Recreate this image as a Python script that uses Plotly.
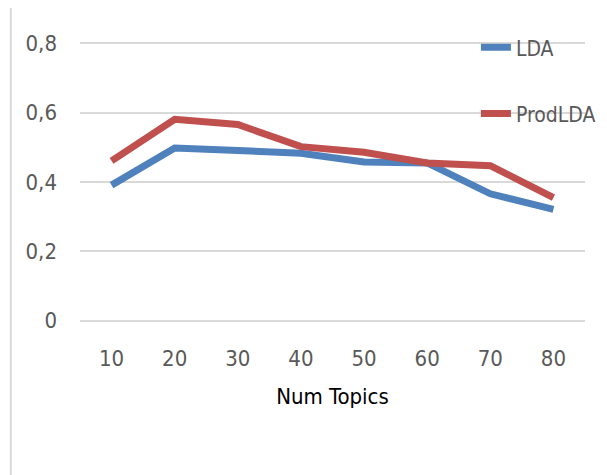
import plotly.graph_objects as go

topics = ["10", "20", "30", "40", "50", "60", "70", "80"]
lda = [0.391, 0.498, 0.491, 0.483, 0.458, 0.455, 0.366, 0.321]
prodlda = [0.461, 0.581, 0.566, 0.502, 0.486, 0.455, 0.447, 0.355]
y_ticks = [0, 0.2, 0.4, 0.6, 0.8]
y_ticktext = ["0", "0,2", "0,4", "0,6", "0,8"]

FONT = "DejaVu Sans Condensed, Liberation Sans Narrow, sans-serif"
GREY = "#595959"


def f(size, color=GREY):
    return dict(family=FONT, size=size, color=color)


fig = go.Figure()
fig.add_trace(go.Scatter(x=topics, y=lda, name="LDA", mode="lines",
                         line=dict(color="#4F81BD", width=7), legendgroup="a"))
fig.add_trace(go.Scatter(x=topics, y=prodlda, name="ProdLDA", mode="lines",
                         line=dict(color="#C0504D", width=7), legendgroup="b"))

fig.update_layout(
    width=607, height=475,
    margin=dict(l=72, r=30, t=34, b=161, autoexpand=False),
    paper_bgcolor="white", plot_bgcolor="white",
    font=f(22),
    showlegend=True,
    legend=dict(x=0.784, y=1.053, xanchor="left", yanchor="top",
                bgcolor="rgba(0,0,0,0)", tracegroupgap=36,
                font=f(21)),
    xaxis=dict(type="category", range=[-0.5, 7.5], showgrid=False,
               zeroline=False, showline=False, ticks="",
               ticklabelstandoff=21, automargin=False,
               tickfont=f(22),
               title=dict(text="Num Topics", standoff=18,
                          font=f(22, "#000000"))),
    yaxis=dict(range=[-0.004, 0.804], tickvals=y_ticks, ticktext=y_ticktext,
               showgrid=True, gridcolor="#D9D9D9", gridwidth=2,
               zeroline=False, showline=False, ticks="",
               ticklabelstandoff=22, automargin=False,
               tickfont=f(22)),
    shapes=[dict(type="line", xref="paper", yref="paper",
                 x0=-0.137, x1=-0.137, y0=-0.6, y1=1.2,
                 line=dict(color="#D9D9D9", width=2))],
)

fig.write_html("out.html")
